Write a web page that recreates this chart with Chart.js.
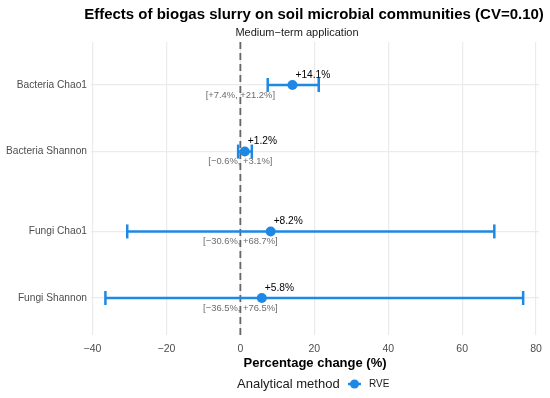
<!DOCTYPE html>
<html>
<head>
<meta charset="utf-8">
<script src="https://cdn.jsdelivr.net/npm/chart.js@4/dist/chart.umd.min.js"></script>
<style>
  html, body { margin: 0; padding: 0; background: #fff; }
  #wrap { width: 550px; height: 398px; }
</style>
</head>
<body>
<div id="wrap"><canvas id="forestChart" width="550" height="398"></canvas></div>
<script>
/* Data */
const outcomes = ['Bacteria Chao1', 'Bacteria Shannon', 'Fungi Chao1', 'Fungi Shannon'];
const rowPos = [4, 3, 1.8, 0.8];
const estimate = [14.1, 1.2, 8.2, 5.8];
const ciLow = [7.4, -0.6, -30.6, -36.5];
const ciHigh = [21.2, 3.1, 68.7, 76.5];
const xTicks = [-40, -20, 0, 20, 40, 60, 80];
const methodLabel = 'RVE';

const blue = '#1E88E5';
const fontFamily = '"Liberation Sans", Arial, sans-serif';

function fmtPct(v) {
  return (v < 0 ? '\u2212' : '+') + Math.abs(v).toFixed(1) + '%';
}

// error bars, one line per outcome with caps
var datasets = outcomes.map(function (name, i) {
  return {
    type: 'line',
    label: name,
    data: [{ x: ciLow[i], y: rowPos[i] }, { x: ciHigh[i], y: rowPos[i] }],
    borderColor: blue,
    borderWidth: 2.5,
    pointStyle: 'line',
    rotation: 90,
    pointRadius: 7,
    pointBorderWidth: 2.5,
    pointBorderColor: blue,
    fill: false
  };
});
datasets.push({
  type: 'scatter',
  label: methodLabel,
  data: estimate.map(function (v, i) { return { x: v, y: rowPos[i] }; }),
  backgroundColor: blue,
  borderColor: blue,
  pointRadius: 5,
  pointBorderWidth: 0
});

// zero line, labels, titles and legend
const extrasPlugin = {
  id: 'extras',
  beforeDatasetsDraw(chart) {
    const ctx = chart.ctx, xs = chart.scales.x, area = chart.chartArea;
    const x0 = xs.getPixelForValue(0);
    ctx.save();
    ctx.strokeStyle = '#666666';
    ctx.lineWidth = 1.8;
    ctx.setLineDash([7, 4]);
    ctx.beginPath();
    ctx.moveTo(x0, area.top);
    ctx.lineTo(x0, area.bottom);
    ctx.stroke();
    ctx.restore();
  },
  afterDatasetsDraw(chart) {
    const ctx = chart.ctx, xs = chart.scales.x, ys = chart.scales.y;
    ctx.save();
    outcomes.forEach(function (name, i) {
      const px = xs.getPixelForValue(estimate[i]);
      const py = ys.getPixelForValue(rowPos[i]);
      ctx.font = '10.2px ' + fontFamily;
      ctx.fillStyle = '#000';
      ctx.textAlign = 'left';
      ctx.textBaseline = 'middle';
      ctx.fillText(fmtPct(estimate[i]), px + 3, py - 10);
      ctx.font = '9.4px ' + fontFamily;
      ctx.fillStyle = '#6b6b6b';
      ctx.textAlign = 'center';
      ctx.fillText('[' + fmtPct(ciLow[i]) + ', ' + fmtPct(ciHigh[i]) + ']', xs.getPixelForValue(0), py + 10);
    });
    ctx.restore();
  },
  afterDraw(chart) {
    const ctx = chart.ctx;
    ctx.save();
    ctx.fillStyle = '#000';
    ctx.textAlign = 'center';
    ctx.textBaseline = 'middle';
    ctx.font = 'bold 15px ' + fontFamily;
    ctx.fillText('Effects of biogas slurry on soil microbial communities (CV=0.10)', 314, 15);
    ctx.font = '11px ' + fontFamily;
    ctx.fillStyle = '#1a1a1a';
    ctx.fillText('Medium\u2212term application', 297, 33);

    // legend
    ctx.textAlign = 'left';
    ctx.font = '13px ' + fontFamily;
    ctx.fillStyle = '#1a1a1a';
    ctx.fillText('Analytical method', 237, 384);
    ctx.strokeStyle = blue;
    ctx.lineWidth = 2.5;
    ctx.beginPath();
    ctx.moveTo(348, 384);
    ctx.lineTo(361, 384);
    ctx.stroke();
    ctx.fillStyle = blue;
    ctx.beginPath();
    ctx.arc(354.5, 384, 4.5, 0, Math.PI * 2);
    ctx.fill();
    ctx.font = '10px ' + fontFamily;
    ctx.fillStyle = '#1a1a1a';
    ctx.fillText(methodLabel, 369, 384);
    ctx.restore();
  }
};

const ctxForest = document.getElementById('forestChart').getContext('2d');
const forestChart = new Chart(ctxForest, {
  data: { datasets: datasets },
  options: {
    responsive: false,
    animation: false,
    layout: { padding: { top: 42, right: 10, bottom: 23, left: 0 } },
    plugins: {
      legend: { display: false },
      tooltip: { enabled: false }
    },
    scales: {
      x: {
        type: 'linear',
        min: -40.4,
        max: 80.8,
        afterBuildTicks: function (scale) {
          scale.ticks = xTicks.map(function (v) { return { value: v }; });
        },
        afterFit: function (scale) { scale.height = 40; },
        border: { display: false },
        grid: { color: '#ebebeb', lineWidth: 1.2, drawTicks: false },
        ticks: {
          padding: 8,
          color: '#4d4d4d',
          font: { family: fontFamily, size: 10.5 },
          callback: function (v) { return (v < 0 ? '\u2212' : '') + Math.abs(v); }
        },
        title: {
          display: true,
          text: 'Percentage change (%)',
          color: '#000',
          font: { family: fontFamily, size: 13, weight: 'bold' },
          padding: { top: 0, bottom: 4 }
        }
      },
      y: {
        type: 'linear',
        min: 0.244,
        max: 4.646,
        afterBuildTicks: function (scale) {
          scale.ticks = rowPos.map(function (v) { return { value: v }; });
        },
        afterFit: function (scale) { scale.width = 91; },
        border: { display: false },
        grid: { color: '#ebebeb', lineWidth: 1.2, drawTicks: false },
        ticks: {
          padding: 4,
          color: '#4d4d4d',
          font: { family: fontFamily, size: 10.2 },
          callback: function (value) {
            const idx = rowPos.indexOf(value);
            return idx >= 0 ? outcomes[idx] : '';
          }
        }
      }
    }
  },
  plugins: [extrasPlugin]
});
</script>
</body>
</html>
